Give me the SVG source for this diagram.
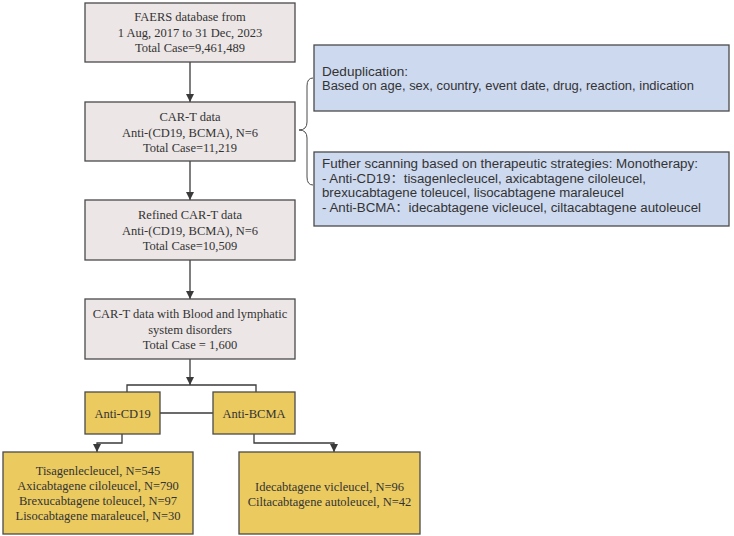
<svg xmlns="http://www.w3.org/2000/svg" width="734" height="536" viewBox="0 0 734 536">
<defs>
<marker id="ah" viewBox="0 0 10 10" refX="10" refY="5" markerWidth="9" markerHeight="8" markerUnits="userSpaceOnUse" orient="auto">
<path d="M0,0 L10,5 L0,10 Z" fill="#3a3a3a"/>
</marker>
<style>
.g{fill:#ece6e6;stroke:#4a4a4a;stroke-width:1.3}
.y{fill:#ebca5f;stroke:#4a4a4a;stroke-width:1.3}
.b{fill:#cdd9ef;stroke:#4a4a4a;stroke-width:1.3}
.s{font-family:"Liberation Serif","Times New Roman",serif;font-size:12.5px;fill:#333;text-anchor:middle}
.n{font-family:"Liberation Sans","Noto Sans CJK SC",sans-serif;font-size:12.5px;fill:#333}
.c{fill:none;stroke:#3a3a3a;stroke-width:1.3}
.c2{fill:none;stroke:#4a4a4a;stroke-width:1}
</style>
</defs>
<rect width="734" height="536" fill="#fff"/>
<g id="connectors">
<path class="c" d="M190,62 V102" marker-end="url(#ah)"/>
<path class="c" d="M190,161 V200" marker-end="url(#ah)"/>
<path class="c" d="M190,260 V299" marker-end="url(#ah)"/>
<path class="c" d="M190,359 V385" marker-end="url(#ah)"/>
<path class="c" d="M127,392 V385 H256 V392"/>
<path class="c" d="M160,413 H213"/>
<path class="c" d="M122,434 V443 H97 V452" marker-end="url(#ah)"/>
<path class="c" d="M254,434 V443 H334 V452" marker-end="url(#ah)"/>
<path class="c2" d="M313,78 Q307,78 307,86 V122 Q307,130 299,130 Q307,130 307,138 V177 Q307,185 313,185"/>
</g>
<g id="n1">
<rect class="g" x="85" y="3" width="210" height="59"/>
<text class="s" x="190" y="21">FAERS database from</text>
<text class="s" x="190" y="36.5">1 Aug, 2017 to 31 Dec, 2023</text>
<text class="s" x="190" y="52">Total Case=9,461,489</text>
</g>
<g id="n2">
<rect class="g" x="85" y="102" width="210" height="59"/>
<text class="s" x="190" y="121">CAR-T data</text>
<text class="s" x="190" y="136.5">Anti-(CD19, BCMA), N=6</text>
<text class="s" x="190" y="152">Total Case=11,219</text>
</g>
<g id="n3">
<rect class="g" x="85" y="200" width="210" height="60"/>
<text class="s" x="190" y="219">Refined CAR-T data</text>
<text class="s" x="190" y="234.5">Anti-(CD19, BCMA), N=6</text>
<text class="s" x="190" y="250">Total Case=10,509</text>
</g>
<g id="n4">
<rect class="g" x="85" y="299" width="210" height="60"/>
<text class="s" x="190" y="318">CAR-T data with Blood and lymphatic</text>
<text class="s" x="190" y="333.5">system disorders</text>
<text class="s" x="190" y="349">Total Case = 1,600</text>
</g>
<g id="n5">
<rect class="y" x="85" y="392" width="75" height="42"/>
<text class="s" x="122.5" y="417.5">Anti-CD19</text>
</g>
<g id="n6">
<rect class="y" x="213" y="392" width="82" height="42"/>
<text class="s" x="254" y="417.5">Anti-BCMA</text>
</g>
<g id="n7">
<rect class="y" x="3" y="452" width="190" height="82"/>
<text class="s" x="98" y="474.5">Tisagenlecleucel, N=545</text>
<text class="s" x="98" y="489.5">Axicabtagene ciloleucel, N=790</text>
<text class="s" x="98" y="504.5">Brexucabtagene toleucel, N=97</text>
<text class="s" x="98" y="519.5">Lisocabtagene maraleucel, N=30</text>
</g>
<g id="n8">
<rect class="y" x="239" y="452" width="181" height="82"/>
<text class="s" x="329.5" y="491">Idecabtagene vicleucel, N=96</text>
<text class="s" x="329.5" y="506">Ciltacabtagene autoleucel, N=42</text>
</g>
<g id="n9">
<rect class="b" x="314" y="45" width="415" height="66"/>
<text class="n" x="322" y="75.5" textLength="86" lengthAdjust="spacingAndGlyphs">Deduplication:</text>
<text class="n" x="322" y="90" textLength="372" lengthAdjust="spacingAndGlyphs">Based on age, sex, country, event date, drug, reaction, indication</text>
</g>
<g id="n10">
<rect class="b" x="314" y="152" width="415" height="74"/>
<text class="n" x="322" y="168" textLength="376" lengthAdjust="spacingAndGlyphs">Futher scanning based on therapeutic strategies: Monotherapy:</text>
<text class="n" x="322" y="182.5" textLength="324" lengthAdjust="spacingAndGlyphs">- Anti-CD19：tisagenlecleucel, axicabtagene ciloleucel,</text>
<text class="n" x="322" y="197" textLength="302" lengthAdjust="spacingAndGlyphs">brexucabtagene toleucel, lisocabtagene maraleucel</text>
<text class="n" x="322" y="211.5" textLength="379" lengthAdjust="spacingAndGlyphs">- Anti-BCMA：idecabtagene vicleucel, ciltacabtagene autoleucel</text>
</g>
</svg>
